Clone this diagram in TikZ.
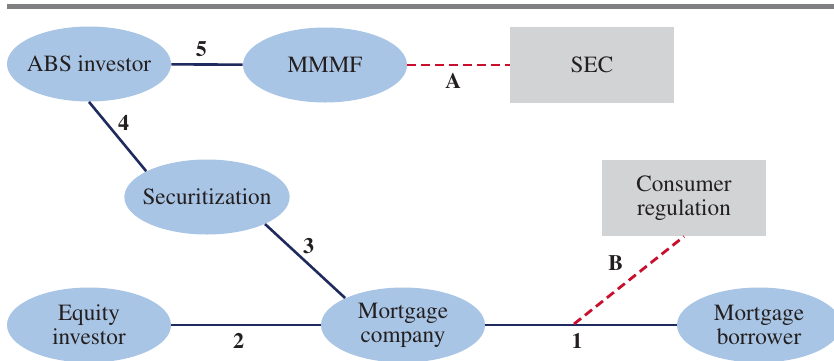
\documentclass[tikz,border=0pt]{standalone}
\usepackage[T1]{fontenc}
\usepackage{mathptmx}
\usetikzlibrary{shapes.geometric}
\definecolor{ovalblue}{RGB}{169,197,229}
\definecolor{boxgray}{RGB}{209,211,212}
\definecolor{linknavy}{RGB}{31,42,94}
\definecolor{regred}{RGB}{200,16,46}
\definecolor{inkgray}{RGB}{35,31,32}
\definecolor{rulegray}{RGB}{128,128,130}

\begin{document}
\begin{tikzpicture}[x=0.5pt,y=-0.5pt,
        party/.style={ellipse,fill=ovalblue,minimum width=82pt,minimum height=37.5pt,
            inner xsep=-3pt,inner ysep=0pt,align=center,text=inkgray,
            font=\rmfamily\fontsize{11.6}{12}\selectfont},
        agency/.style={rectangle,fill=boxgray,minimum width=82pt,minimum height=38pt,
            inner sep=0pt,align=center,text=inkgray,font=\rmfamily\fontsize{11.6}{12}\selectfont},
        link/.style={draw=linknavy,line width=1.3pt},
        regline/.style={draw=regred,line width=1.4pt,dash pattern=on 4.5pt off 2.5pt},
        tag/.style={font=\rmfamily\fontsize{11}{12}\selectfont\bfseries,text=inkgray}]
        \useasboundingbox (0,0) rectangle (834,360);
        \fill[rulegray] (7,4) rectangle (834,9);

        \node[party] (abs) at (89,64) {ABS investor};
        \node[party] (mmmf) at (325,65) {MMMF};
        \node[agency] (sec) at (592,65) {SEC};
        \node[party] (secur) at (207,197) {Securitization};
        \node[agency] (cons) at (684,198) {Consumer\\regulation};
        \node[party] (equity) at (89,325) {Equity\\investor};
        \node[party] (mc) at (403,325) {Mortgage\\company};
        \node[party] (borrower) at (759,325) {Mortgage\\borrower};
        \coordinate (bfoot) at (574,324);

        \draw[link] (abs) -- node[tag,above,pos=0.42] {5} (mmmf);
        \draw[regline] (mmmf) -- node[tag,below,pos=0.45] {A} (sec);
        \draw[link] (abs.south) -- node[tag,right,pos=0.3,xshift=2pt] {4} (secur.157);
        \draw[link] (secur.-25) -- node[tag,right,pos=0.3,xshift=3pt] {3} (mc.155);
        \draw[link] (equity) -- node[tag,below,pos=0.45] {2} (mc);
        \draw[link] (mc) -- node[tag,below,pos=0.48] {1} (borrower);
        \draw[regline] (bfoot) -- node[tag,above left,pos=0.52] {B} (cons.south);
    \end{tikzpicture}
\end{document}
